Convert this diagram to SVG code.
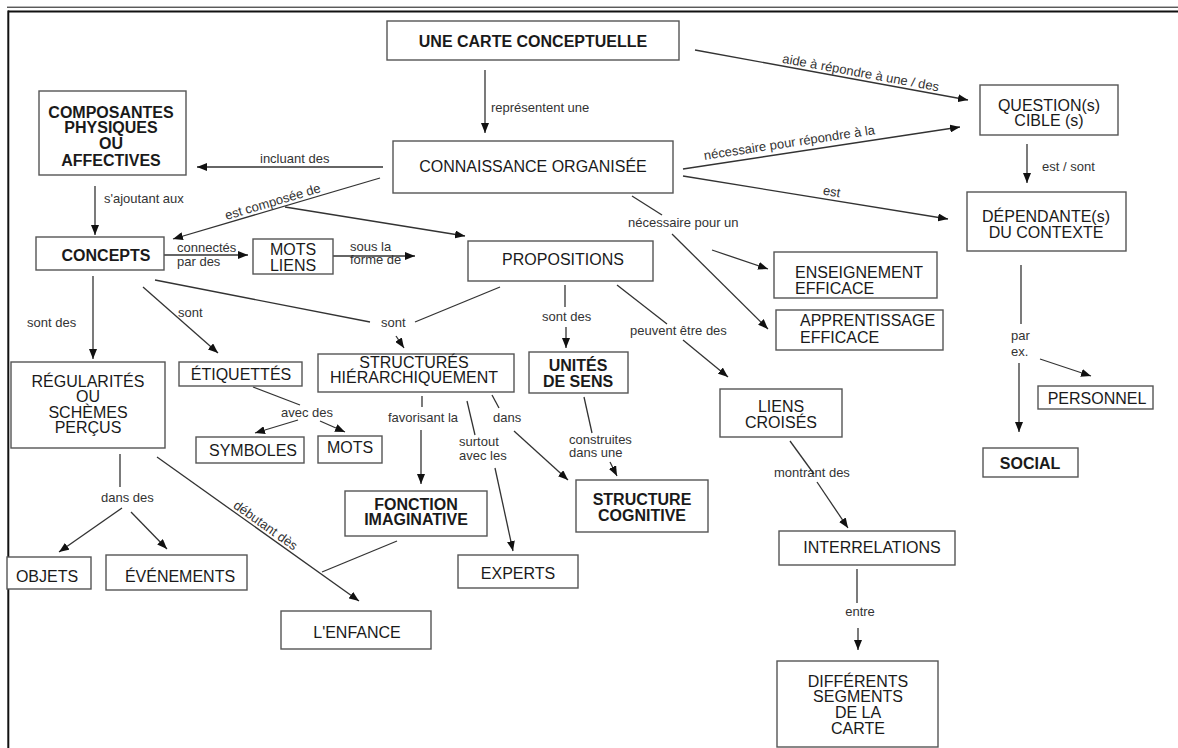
<svg xmlns="http://www.w3.org/2000/svg" width="1178" height="748" viewBox="0 0 1178 748">
  <defs>
    <marker id="ah" viewBox="0 0 10 8" refX="10" refY="4" markerWidth="10" markerHeight="8" markerUnits="userSpaceOnUse" orient="auto">
      <path d="M0,0 L10,4 L0,8 z" fill="#111"/>
    </marker>
    <style>
      .box { fill: #fff; stroke: #555; stroke-width: 1.4; }
      .t { font-family: "Liberation Sans", Arial, sans-serif; font-size: 16px; fill: #1a1a1a; text-anchor: middle; }
      .tl { font-family: "Liberation Sans", Arial, sans-serif; font-size: 16px; fill: #1a1a1a; }
      .b { font-weight: bold; }
      .ln { fill: none; stroke: #333; stroke-width: 1.3; }
      .ar { fill: none; stroke: #333; stroke-width: 1.3; marker-end: url(#ah); }
      .lb { font-family: "Liberation Sans", Arial, sans-serif; font-size: 13px; fill: #333; }
      .lbm { font-family: "Liberation Sans", Arial, sans-serif; font-size: 13px; fill: #333; text-anchor: middle; }
    </style>
  </defs>

  <rect width="1178" height="748" fill="#fff"/>

  <!-- page frame -->
  <g id="frame" stroke="#111" fill="none">
    <line x1="7" y1="7.2" x2="1178" y2="7.2" stroke-width="1"/>
    <line x1="8" y1="11.6" x2="1178" y2="11.6" stroke-width="2"/>
    <line x1="8.3" y1="10.6" x2="8.3" y2="748" stroke-width="2"/>
  </g>

  <!-- connectors and their labels -->
  <g id="connectors">
    <line class="ar" x1="485" y1="70" x2="485" y2="133"/>
    <text class="lb" x="491" y="112">représentent une</text>

    <line class="ar" x1="695" y1="50" x2="968" y2="100"/>
    <text class="lbm" transform="translate(860,77) rotate(10.4)">aide à répondre à une / des</text>

    <line class="ar" x1="683" y1="169" x2="960" y2="127"/>
    <text class="lbm" transform="translate(790,147) rotate(-8.6)">nécessaire pour répondre à la</text>

    <line class="ar" x1="683" y1="176" x2="948" y2="219"/>
    <text class="lbm" transform="translate(831,196) rotate(9.2)">est</text>

    <line class="ar" x1="1027" y1="144" x2="1027" y2="183"/>
    <text class="lb" x="1042" y="171">est / sont</text>

    <line class="ar" x1="383" y1="167" x2="197" y2="167"/>
    <text class="lb" x="260" y="163">incluant des</text>

    <line class="ar" x1="95" y1="186" x2="95" y2="235"/>
    <text class="lb" x="104" y="203">s'ajoutant aux</text>

    <line class="ar" x1="380" y1="178" x2="173" y2="239"/>
    <text class="lbm" transform="translate(274,206) rotate(-16.4)">est composée de</text>
    <line class="ar" x1="285" y1="207" x2="465" y2="236"/>

    <line class="ar" x1="164" y1="255" x2="248" y2="255"/>
    <text class="lb" x="177" y="252">connectés</text>
    <text class="lb" x="177" y="266">par des</text>

    <line class="ar" x1="333" y1="256" x2="415" y2="256"/>
    <text class="lb" x="350" y="251">sous la</text>
    <text class="lb" x="350" y="264">forme de</text>

    <line class="ln" x1="632" y1="196" x2="662" y2="215"/>
    <text class="lb" x="628" y="227">nécessaire pour un</text>
    <line class="ar" x1="712" y1="250" x2="768" y2="269"/>
    <line class="ar" x1="672" y1="234" x2="768" y2="329"/>

    <line class="ar" x1="93" y1="276" x2="93" y2="359"/>
    <text class="lb" x="27" y="327">sont des</text>

    <line class="ar" x1="143" y1="287" x2="218" y2="353"/>
    <text class="lb" x="178" y="317">sont</text>

    <line class="ln" x1="155" y1="280" x2="370" y2="322"/>
    <line class="ln" x1="500" y1="287" x2="415" y2="322"/>
    <text class="lb" x="381" y="327">sont</text>
    <line class="ar" x1="396" y1="336" x2="404" y2="348"/>

    <line class="ln" x1="565" y1="285" x2="565" y2="307"/>
    <text class="lb" x="542" y="321">sont des</text>
    <line class="ar" x1="566" y1="327" x2="566" y2="348"/>

    <line class="ln" x1="617" y1="285" x2="667" y2="324"/>
    <text class="lb" x="630" y="335">peuvent être des</text>
    <line class="ar" x1="683" y1="340" x2="728" y2="377"/>

    <line class="ln" x1="253" y1="387" x2="300" y2="405"/>
    <text class="lb" x="281" y="417">avec des</text>
    <line class="ar" x1="298" y1="420" x2="255" y2="433"/>
    <line class="ar" x1="320" y1="421" x2="345" y2="432"/>

    <line class="ln" x1="422" y1="396" x2="422" y2="407"/>
    <text class="lb" x="388" y="422">favorisant la</text>
    <line class="ar" x1="421" y1="430" x2="421" y2="484"/>

    <line class="ln" x1="467" y1="401" x2="475" y2="435"/>
    <text class="lb" x="459" y="446">surtout</text>
    <text class="lb" x="459" y="460">avec les</text>
    <line class="ar" x1="495" y1="468" x2="513" y2="551"/>

    <line class="ln" x1="492" y1="395" x2="499" y2="408"/>
    <text class="lb" x="493" y="422">dans</text>
    <line class="ar" x1="514" y1="431" x2="568" y2="480"/>

    <line class="ln" x1="584" y1="397" x2="592" y2="433"/>
    <text class="lb" x="569" y="444">construites</text>
    <text class="lb" x="569" y="457">dans une</text>
    <line class="ar" x1="610" y1="462" x2="617" y2="476"/>

    <line class="ln" x1="120" y1="454" x2="120" y2="487"/>
    <text class="lb" x="101" y="502">dans des</text>
    <line class="ar" x1="122" y1="508" x2="59" y2="552"/>
    <line class="ar" x1="131" y1="512" x2="167" y2="549"/>

    <line class="ar" x1="157" y1="457" x2="359" y2="601"/>
    <text class="lbm" transform="translate(263,529) rotate(35.5)">débutant dès</text>
    <line class="ln" x1="397" y1="541" x2="322" y2="572"/>

    <line class="ln" x1="1021" y1="265" x2="1021" y2="324"/>
    <text class="lb" x="1011" y="340">par</text>
    <text class="lb" x="1011" y="356">ex.</text>
    <line class="ar" x1="1019" y1="363" x2="1019" y2="432"/>
    <line class="ar" x1="1040" y1="359" x2="1091" y2="376"/>

    <line class="ln" x1="790" y1="441" x2="814" y2="474"/>
    <text class="lb" x="774" y="477">montrant des</text>
    <line class="ar" x1="817" y1="482" x2="848" y2="528"/>

    <line class="ln" x1="857" y1="569" x2="857" y2="603"/>
    <text class="lbm" x="860" y="616">entre</text>
    <line class="ar" x1="858" y1="628" x2="858" y2="650"/>
  </g>

  <!-- concept boxes -->
  <g id="n-carte">
    <rect class="box" x="387" y="21" width="292" height="39"/>
    <text class="t b" x="533" y="47">UNE CARTE CONCEPTUELLE</text>
  </g>
  <g id="n-connaissance">
    <rect class="box" x="393" y="141" width="280" height="52"/>
    <text class="t" x="533" y="172">CONNAISSANCE ORGANISÉE</text>
  </g>
  <g id="n-composantes">
    <rect class="box" x="39" y="91" width="147" height="84"/>
    <text class="t b" x="111" y="118">COMPOSANTES</text>
    <text class="t b" x="111" y="133">PHYSIQUES</text>
    <text class="t b" x="111" y="149">OU</text>
    <text class="t b" x="111" y="166">AFFECTIVES</text>
  </g>
  <g id="n-question">
    <rect class="box" x="980" y="85" width="138" height="50"/>
    <text class="t" x="1049" y="111">QUESTION(s)</text>
    <text class="t" x="1049" y="126">CIBLE (s)</text>
  </g>
  <g id="n-dependante">
    <rect class="box" x="967" y="192" width="159" height="59"/>
    <text class="t" x="1046" y="222">DÉPENDANTE(s)</text>
    <text class="t" x="1046" y="238">DU CONTEXTE</text>
  </g>
  <g id="n-concepts">
    <rect class="box" x="36" y="237" width="128" height="33"/>
    <text class="t b" x="106" y="261">CONCEPTS</text>
  </g>
  <g id="n-mots-liens">
    <rect class="box" x="253" y="239" width="80" height="35"/>
    <text class="t" x="293" y="255">MOTS</text>
    <text class="t" x="293" y="271">LIENS</text>
  </g>
  <g id="n-propositions">
    <rect class="box" x="468" y="241" width="185" height="40"/>
    <text class="t" x="563" y="265">PROPOSITIONS</text>
  </g>
  <g id="n-enseignement">
    <rect class="box" x="774" y="252" width="163" height="46"/>
    <text class="tl" x="795" y="278">ENSEIGNEMENT</text>
    <text class="tl" x="795" y="294">EFFICACE</text>
  </g>
  <g id="n-apprentissage">
    <rect class="box" x="776" y="310" width="167" height="40"/>
    <text class="tl" x="800" y="326">APPRENTISSAGE</text>
    <text class="tl" x="800" y="343">EFFICACE</text>
  </g>
  <g id="n-regularites">
    <rect class="box" x="11" y="362" width="154" height="86"/>
    <text class="t" x="88" y="387">RÉGULARITÉS</text>
    <text class="t" x="88" y="402">OU</text>
    <text class="t" x="88" y="418">SCHÈMES</text>
    <text class="t" x="88" y="433">PERÇUS</text>
  </g>
  <g id="n-etiquettes">
    <rect class="box" x="179" y="362" width="123" height="24"/>
    <text class="t" x="241" y="380">ÉTIQUETTÉS</text>
  </g>
  <g id="n-structures">
    <rect class="box" x="318" y="354" width="196" height="38"/>
    <text class="t" x="414" y="368">STRUCTURÉS</text>
    <text class="t" x="414" y="383">HIÉRARCHIQUEMENT</text>
  </g>
  <g id="n-unites">
    <rect class="box" x="529" y="352" width="99" height="41"/>
    <text class="t b" x="578" y="371">UNITÉS</text>
    <text class="t b" x="578" y="387">DE SENS</text>
  </g>
  <g id="n-liens-croises">
    <rect class="box" x="720" y="389" width="122" height="48"/>
    <text class="t" x="781" y="412">LIENS</text>
    <text class="t" x="781" y="428">CROISÉS</text>
  </g>
  <g id="n-personnel">
    <rect class="box" x="1038" y="386" width="115" height="23"/>
    <text class="t" x="1097" y="404">PERSONNEL</text>
  </g>
  <g id="n-social">
    <rect class="box" x="983" y="448" width="95" height="29"/>
    <text class="t b" x="1030" y="469">SOCIAL</text>
  </g>
  <g id="n-symboles">
    <rect class="box" x="196" y="437" width="108" height="26"/>
    <text class="t" x="253" y="456">SYMBOLES</text>
  </g>
  <g id="n-mots">
    <rect class="box" x="318" y="436" width="64" height="27"/>
    <text class="t" x="350" y="453">MOTS</text>
  </g>
  <g id="n-fonction">
    <rect class="box" x="345" y="491" width="142" height="45"/>
    <text class="t b" x="416" y="510">FONCTION</text>
    <text class="t b" x="416" y="525">IMAGINATIVE</text>
  </g>
  <g id="n-structure-cognitive">
    <rect class="box" x="576" y="480" width="132" height="52"/>
    <text class="t b" x="642" y="505">STRUCTURE</text>
    <text class="t b" x="642" y="521">COGNITIVE</text>
  </g>
  <g id="n-experts">
    <rect class="box" x="458" y="555" width="120" height="33"/>
    <text class="t" x="518" y="579">EXPERTS</text>
  </g>
  <g id="n-objets">
    <rect class="box" x="7" y="557" width="84" height="32"/>
    <text class="t" x="47" y="582">OBJETS</text>
  </g>
  <g id="n-evenements">
    <rect class="box" x="106" y="555" width="141" height="35"/>
    <text class="t" x="180" y="582">ÉVÉNEMENTS</text>
  </g>
  <g id="n-enfance">
    <rect class="box" x="281" y="611" width="150" height="38"/>
    <text class="t" x="357" y="638">L'ENFANCE</text>
  </g>
  <g id="n-interrelations">
    <rect class="box" x="779" y="531" width="176" height="34"/>
    <text class="t" x="872" y="553">INTERRELATIONS</text>
  </g>
  <g id="n-differents">
    <rect class="box" x="777" y="661" width="161" height="86"/>
    <text class="t" x="858" y="687">DIFFÉRENTS</text>
    <text class="t" x="858" y="702">SEGMENTS</text>
    <text class="t" x="858" y="718">DE LA</text>
    <text class="t" x="858" y="734">CARTE</text>
  </g>
</svg>
